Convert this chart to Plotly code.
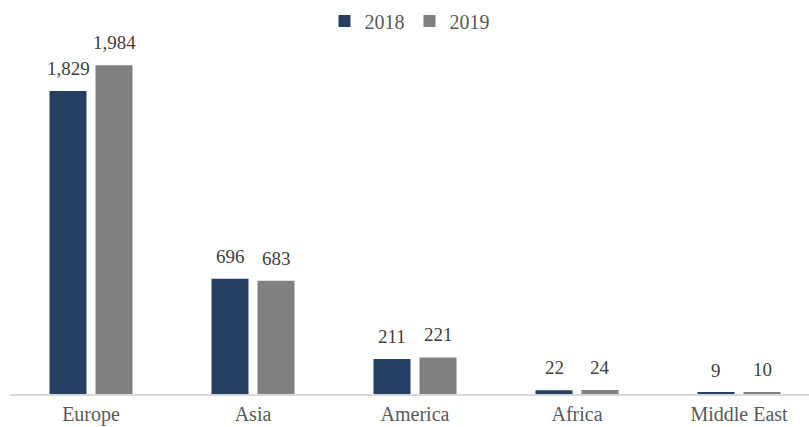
import plotly.graph_objects as go

regions = ["Europe", "Asia", "America", "Africa", "Middle East"]
values_2018 = [1829, 696, 211, 22, 9]
values_2019 = [1984, 683, 221, 24, 10]

SERIF = "Liberation Serif"
series = [("2018", values_2018, "#253F62", -23), ("2019", values_2019, "#808080", 23)]

fig = go.Figure()
for name, vals, color, _ in series:
    fig.add_trace(go.Bar(
        name=name, x=regions, y=vals,
        marker=dict(color=color, line=dict(width=0)),
        cliponaxis=False,
    ))

# value labels sitting a little above each bar
for name, vals, color, dx in series:
    for region, v in zip(regions, vals):
        fig.add_annotation(
            x=region, y=v, xref="x", yref="y",
            text=f"{v:,}", showarrow=False,
            xshift=dx, yshift=10, yanchor="bottom",
            font=dict(family=SERIF, size=19, color="#404040"),
        )

fig.update_layout(
    width=809, height=427,
    margin=dict(l=10, r=0, t=30, b=33, autoexpand=False),
    paper_bgcolor="white", plot_bgcolor="white",
    barmode="group", bargap=0.432, bargroupgap=0.196,
    font=dict(family=SERIF, size=20, color="#595959"),
    legend=dict(
        orientation="h", x=0.5, xanchor="center", y=1.025, yanchor="middle",
        font=dict(family=SERIF, size=20, color="#595959"),
        itemwidth=30, tracegroupgap=0,
    ),
    xaxis=dict(
        range=[-0.5, -0.5 + 799 / 162],
        showline=True, linecolor="#D9D9D9", linewidth=2,
        ticks="", showgrid=False, zeroline=False,
        tickfont=dict(family=SERIF, size=20, color="#595959"),
        ticklabelstandoff=1,
    ),
    yaxis=dict(
        range=[0, 2197], visible=False, showgrid=False, zeroline=False,
    ),
    showlegend=True,
)

fig.write_html("out.html")
